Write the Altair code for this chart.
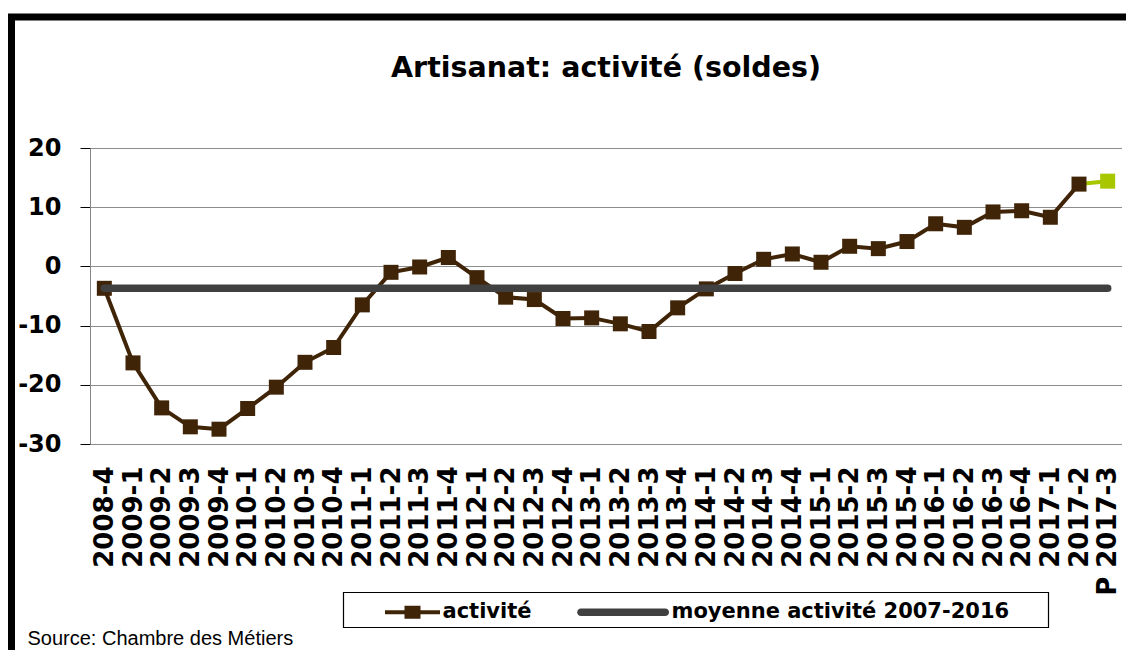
import altair as alt
import pandas as pd

# ---------------- data ----------------
categories = [
    "2008-4",
    "2009-1", "2009-2", "2009-3", "2009-4",
    "2010-1", "2010-2", "2010-3", "2010-4",
    "2011-1", "2011-2", "2011-3", "2011-4",
    "2012-1", "2012-2", "2012-3", "2012-4",
    "2013-1", "2013-2", "2013-3", "2013-4",
    "2014-1", "2014-2", "2014-3", "2014-4",
    "2015-1", "2015-2", "2015-3", "2015-4",
    "2016-1", "2016-2", "2016-3", "2016-4",
    "2017-1", "2017-2", "P 2017-3",
]
activite = [
    -3.7,
    -16.3, -23.9, -27.1, -27.5,
    -24.0, -20.4, -16.2, -13.7,
    -6.5, -1.0, -0.1, 1.5,
    -1.9, -5.2, -5.6, -8.8,
    -8.7, -9.7, -11.0, -7.0,
    -3.8, -1.2, 1.2, 2.1,
    0.7, 3.4, 3.0, 4.2,
    7.2, 6.6, 9.2, 9.4,
    8.3, 13.9, 14.4,
]
moyenne_2007_2016 = -3.7
series = ["activité", "moyenne activité 2007-2016"]
y_ticks = [-30, -20, -10, 0, 10, 20]
title_text = "Artisanat: activité (soldes)"
source_text = "Source: Chambre des Métiers"

# ---------------- styles ----------------
BROWN = "#3F2408"
GRAY = "#404040"
GREEN = "#A8C700"
W, H = 1032, 296

PATH_ACT = "M-4.5,-0.2H1V0.2H-4.5Z M-2.55,-0.65H-0.95V0.65H-2.55Z"
PATH_MOY = ("M-7.8,-0.38H0.62A0.38,0.38 0 0 1 0.62,0.38"
            "H-7.8A0.38,0.38 0 0 1 -7.8,-0.38Z")

df = pd.DataFrame({
    "categorie": categories,
    "valeur": activite,
    "moyenne": [moyenne_2007_2016] * len(categories),
    "ordre": list(range(len(categories))),
})
observe = df.iloc[:-1]
prevision = df.iloc[-2:]
legend_df = pd.DataFrame({"serie": series})
one_row = pd.DataFrame({"k": [0]})

x_scale = alt.Scale(domain=categories, type="point", padding=0.5)
y_scale = alt.Scale(domain=[-30, 20], nice=False, zero=False)

x_axis = alt.Axis(
    labelAngle=270, labelAlign="right", labelBaseline="middle",
    labelFont="DejaVu Sans", labelFontSize=26, labelFontWeight="bold",
    labelColor="#000", labelPadding=22, labelOverlap=False, labelLimit=300,
    ticks=False, tickSize=0, domain=False, grid=False,
    title=source_text, titleX=-63, titleY=200, titleAngle=0,
    titleAlign="left", titleBaseline="alphabetic",
    titleFont="Liberation Sans", titleFontSize=20, titleFontWeight="normal",
    titleColor="#000",
)
y_axis = alt.Axis(
    values=y_ticks, labelExpr="'' + datum.value",
    labelFont="DejaVu Sans", labelFontSize=24, labelFontWeight="bold",
    labelColor="#000", labelPadding=19,
    tickSize=10, tickColor="#000", tickWidth=1,
    domainColor="#868686", domainWidth=1,
    grid=True, gridColor="#1a1a1a", gridDash=[1, 1], gridWidth=1,
    title=None,
)

X = alt.X("categorie:N", scale=x_scale, axis=x_axis)


def Y(field):
    return alt.Y(field, scale=y_scale, axis=y_axis, title=None)


green_seg = alt.Chart(prevision).mark_line(
    color=GREEN, strokeWidth=4
).encode(x=X, y=Y("valeur:Q"), order="ordre:Q")

brown_line = alt.Chart(observe).mark_line(
    color=BROWN, strokeWidth=4
).encode(x=X, y=Y("valeur:Q"), order="ordre:Q")

points = alt.Chart(df).mark_point(
    shape="square", filled=True, size=225, opacity=1, strokeWidth=0
).encode(
    x=X, y=Y("valeur:Q"),
    color=alt.when(alt.datum.categorie == categories[-1])
    .then(alt.value(GREEN)).otherwise(alt.value(BROWN)),
)

avg_line = alt.Chart(df).mark_line(
    color=GRAY, strokeWidth=7.5, strokeCap="round"
).encode(x=X, y=Y("moyenne:Q"), order="ordre:Q")

# outer frame of the figure (decoration)
frame = alt.Chart(one_row).mark_rect(
    fillOpacity=0, stroke="#000", strokeWidth=7
).encode(
    x=alt.value(-78.5), x2=alt.value(W + 40),
    y=alt.value(-131), y2=alt.value(H + 260),
)

# legend box (decoration)
legend_box = alt.Chart(one_row).mark_rect(
    fill="#fff", stroke="#000", strokeWidth=1.2
).encode(
    x=alt.value(253.5), x2=alt.value(958.5),
    y=alt.value(444.5), y2=alt.value(479.5),
)

leg = alt.Legend(
    title=None,
    orient="none", legendX=329.5, legendY=453.5, direction="horizontal",
    padding=0,
    labelFont="DejaVu Sans", labelFontSize=21, labelFontWeight="bold",
    labelColor="#000", labelOffset=2, labelLimit=500, columnPadding=44,
    symbolSize=400, symbolStrokeWidth=0,
)
legend_layer = alt.Chart(legend_df).mark_point(
    filled=True, opacity=1, clip=True, size=10
).encode(
    x=alt.value(0), y=alt.value(H + 500),
    color=alt.Color("serie:N", scale=alt.Scale(domain=series, range=[BROWN, GRAY]), legend=leg),
    shape=alt.Shape("serie:N", scale=alt.Scale(domain=series, range=[PATH_ACT, PATH_MOY]), legend=leg),
)

chart = alt.layer(
    green_seg, brown_line, points, avg_line, frame, legend_box, legend_layer
).properties(
    width=W, height=H,
    autosize=alt.AutoSizeParams(type="none"),
    padding={"left": 82, "top": 140, "right": 4, "bottom": 206},
    background="#ffffff",
    title=alt.TitleParams(
        title_text, font="DejaVu Sans", fontSize=28.5, fontWeight="bold",
        color="#000", anchor="middle", frame="group",
        baseline="alphabetic", offset=-91.5,
    ),
).configure_view(strokeWidth=0)

chart.save("out.html", embed_options={"renderer": "svg", "actions": False})
